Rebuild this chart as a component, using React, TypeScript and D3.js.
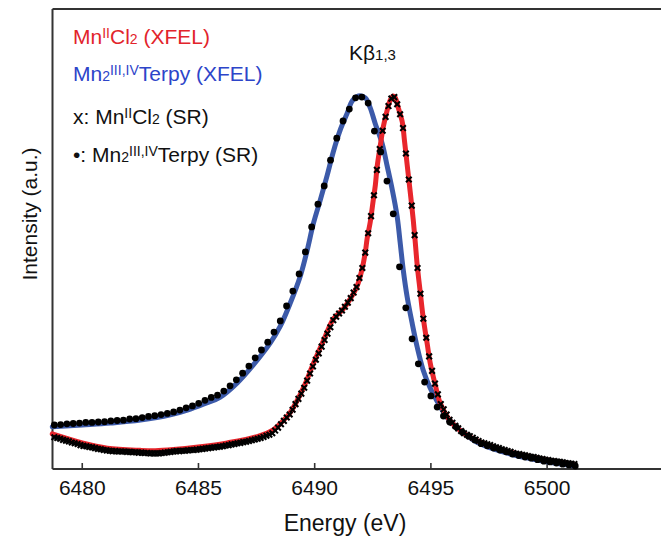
import React from 'react';
import * as d3 from 'd3';

// MnIICl2 XFEL spectrum (energy in eV, normalized intensity)
const RED_ENERGY = [6478.71,6480.00,6481.08,6482.50,6483.14,6483.92,6484.99,6486.24,6487.53,6488.22,6488.60,6488.95,6489.51,6489.94,6490.37,6490.80,6491.23,6491.53,6491.83,6492.05,6492.18,6492.26,6492.39,6492.52,6492.61,6492.69,6492.82,6492.95,6493.12,6493.25,6493.38,6493.47,6493.60,6493.77,6493.86,6493.98,6494.11,6494.24,6494.33,6494.41,6494.54,6494.67,6494.85,6494.97,6495.19,6495.40,6495.83,6496.39,6497.13,6498.55,6500.01,6501.13];
const RED_INTENSITY = [0.094,0.070,0.056,0.050,0.049,0.052,0.059,0.070,0.087,0.105,0.127,0.152,0.217,0.282,0.343,0.402,0.429,0.456,0.491,0.539,0.582,0.619,0.662,0.721,0.761,0.812,0.866,0.917,0.962,0.989,1.000,0.995,0.968,0.930,0.882,0.815,0.743,0.668,0.606,0.547,0.475,0.405,0.332,0.284,0.225,0.177,0.129,0.097,0.072,0.043,0.024,0.013];

// Mn2III,IV Terpy XFEL spectrum
const BLUE_ENERGY = [6478.71,6480.00,6481.20,6482.50,6483.79,6484.52,6485.21,6485.94,6486.67,6487.36,6488.09,6488.52,6488.95,6489.38,6489.68,6489.94,6490.24,6490.54,6490.80,6491.10,6491.40,6491.62,6491.88,6492.18,6492.39,6492.61,6492.91,6493.12,6493.34,6493.55,6493.68,6493.81,6493.98,6494.20,6494.41,6494.67,6494.97,6495.28,6495.71,6496.14,6496.70,6497.13,6498.55,6500.01,6501.21];
const BLUE_INTENSITY = [0.113,0.118,0.123,0.131,0.145,0.158,0.174,0.193,0.231,0.279,0.338,0.383,0.445,0.517,0.587,0.657,0.721,0.788,0.850,0.909,0.954,0.987,1.000,0.995,0.968,0.925,0.871,0.812,0.748,0.676,0.606,0.534,0.461,0.389,0.327,0.265,0.217,0.180,0.137,0.110,0.083,0.067,0.038,0.019,0.008];

// MnIICl2 SR spectrum (x markers), regular energy grid
const SR_MNCL2_START = 6478.8;
const SR_MNCL2_STEP = 0.125;
const SR_MNCL2_INTENSITY = [
  0.085,0.083,0.081,0.078,0.076,0.074,0.071,0.069,0.067,0.064,
  0.062,0.061,0.059,0.058,0.056,0.054,0.053,0.051,0.050,0.049,
  0.048,0.048,0.047,0.047,0.047,0.046,0.046,0.045,0.045,0.044,
  0.044,0.043,0.043,0.042,0.042,0.042,0.042,0.043,0.044,0.045,
  0.046,0.047,0.048,0.048,0.049,0.049,0.050,0.051,0.051,0.052,
  0.053,0.054,0.055,0.056,0.057,0.058,0.059,0.060,0.061,0.063,
  0.064,0.066,0.067,0.069,0.070,0.072,0.073,0.075,0.077,0.079,
  0.081,0.083,0.086,0.089,0.092,0.096,0.103,0.111,0.120,0.129,
  0.138,0.146,0.159,0.174,0.188,0.202,0.218,0.237,0.256,0.275,
  0.293,0.310,0.328,0.346,0.363,0.380,0.399,0.408,0.417,0.425,
  0.435,0.446,0.458,0.473,0.488,0.512,0.539,0.580,0.632,0.678,
  0.734,0.802,0.858,0.907,0.944,0.973,0.993,0.997,0.978,0.951,
  0.914,0.846,0.776,0.706,0.627,0.539,0.470,0.403,0.352,0.302,
  0.263,0.229,0.200,0.174,0.160,0.146,0.132,0.124,0.116,0.109,
  0.102,0.096,0.092,0.088,0.084,0.079,0.075,0.071,0.069,0.066,
  0.064,0.061,0.058,0.056,0.053,0.051,0.048,0.046,0.043,0.041,
  0.040,0.038,0.037,0.035,0.033,0.032,0.030,0.028,0.027,0.025,
  0.024,0.022,0.021,0.020,0.019,0.018,0.016,0.015,0.014,0.013
];

// Mn2III,IV Terpy SR spectrum (dot markers), regular energy grid
const SR_TERPY_START = 6478.8;
const SR_TERPY_STEP = 0.27;
const SR_TERPY_INTENSITY = [
  0.118,0.119,0.121,0.122,0.123,0.125,0.125,0.126,0.127,0.129,
  0.130,0.131,0.134,0.135,0.138,0.141,0.143,0.146,0.149,0.153,
  0.158,0.164,0.169,0.176,0.184,0.192,0.198,0.209,0.223,0.239,
  0.257,0.276,0.298,0.319,0.340,0.367,0.397,0.437,0.477,0.523,
  0.582,0.649,0.710,0.759,0.828,0.887,0.933,0.965,0.995,0.997,
  0.981,0.906,0.850,0.772,0.684,0.542,0.432,0.349,0.282,0.233,
  0.196,0.166,0.142,0.126,0.113,0.099,0.088,0.078,0.068,0.062,
  0.056,0.051,0.046,0.040,0.036,0.032,0.029,0.025,0.021,0.019,
  0.016,0.013,0.011,0.008
];

const X_TICKS = [6480, 6485, 6490, 6495, 6500];
const X_DOMAIN = [6478.72, 6504.9];
const Y_DOMAIN = [0, 1];

const FONT = '"Liberation Sans", Arial, Helvetica, sans-serif';
const RED = '#e8262c';
const BLUE = '#3c5aa9';
const RED_TEXT = '#e2242b';
const BLUE_TEXT = '#2d45c9';
const INK = '#111';

export default function App() {
  const W = 661, H = 537;
  const left = 52.5, right = 661, top = 9, bottom = 469;
  const x = d3.scaleLinear().domain(X_DOMAIN).range([left, right]);
  const y = d3.scaleLinear().domain(Y_DOMAIN).range([bottom, 96]);

  const line = d3
    .line<[number, number]>()
    .x((d) => x(d[0]))
    .y((d) => y(d[1]))
    .curve(d3.curveCatmullRom.alpha(0.5));

  const redPts = RED_ENERGY.map((e, i) => [e, RED_INTENSITY[i]] as [number, number]);
  const bluePts = BLUE_ENERGY.map((e, i) => [e, BLUE_INTENSITY[i]] as [number, number]);
  const mnPts = SR_MNCL2_INTENSITY.map((v, i) => [SR_MNCL2_START + i * SR_MNCL2_STEP, v] as [number, number]);
  const tpPts = SR_TERPY_INTENSITY.map((v, i) => [SR_TERPY_START + i * SR_TERPY_STEP, v] as [number, number]);

  const xs = 2.8;
  const xPath = `M${-xs},${-xs}L${xs},${xs}M${-xs},${xs}L${xs},${-xs}`;

  return (
    <svg
      width={W}
      height={H}
      viewBox={`0 0 ${W} ${H}`}
      style={{ position: 'absolute', left: 0, top: 0, display: 'block', background: '#fff' }}
      fontFamily={FONT}
    >
      <rect x={0} y={0} width={W} height={H} fill="#fff" />

      {/* frame */}
      <line x1={left} x2={right} y1={top} y2={top} stroke="#333" strokeWidth={2.2} />
      <line x1={left} x2={left} y1={top} y2={bottom} stroke="#333" strokeWidth={2} />
      <line x1={left} x2={right} y1={bottom} y2={bottom} stroke="#333" strokeWidth={2.2} />

      {/* x ticks */}
      {X_TICKS.map((t) => (
        <g key={t}>
          <line x1={x(t)} x2={x(t)} y1={bottom} y2={bottom - 6} stroke="#333" strokeWidth={1.6} />
          <text x={x(t)} y={495} textAnchor="middle" fontSize={21} fill={INK}>
            {t}
          </text>
        </g>
      ))}

      {/* axis titles */}
      <text x={345} y={531} textAnchor="middle" fontSize={23} fill={INK}>
        Energy (eV)
      </text>
      <text
        transform="translate(37,214) rotate(-90)"
        textAnchor="middle"
        fontSize={21}
        fill={INK}
      >
        Intensity (a.u.)
      </text>

      {/* XFEL lines */}
      <path d={line(bluePts) || ''} fill="none" stroke={BLUE} strokeWidth={5} strokeLinejoin="round" strokeLinecap="round" />
      <path d={line(redPts) || ''} fill="none" stroke={RED} strokeWidth={5} strokeLinejoin="round" strokeLinecap="round" />

      {/* SR markers */}
      {mnPts.map((d, i) => (
        <path
          key={'m' + i}
          d={xPath}
          transform={`translate(${x(d[0])},${y(d[1])})`}
          stroke="#000"
          strokeWidth={2.1}
          fill="none"
        />
      ))}
      {tpPts.map((d, i) => (
        <circle key={'t' + i} cx={x(d[0])} cy={y(d[1])} r={3.4} fill="#000" />
      ))}

      {/* legend */}
      <text x={73} y={44} fontSize={21} fill={RED_TEXT}>
        Mn
        <tspan fontSize={14} dy={-6}>II</tspan>
        <tspan dy={6}>Cl</tspan>
        <tspan fontSize={14}>2</tspan>
        <tspan> (XFEL)</tspan>
      </text>
      <text x={73} y={81} fontSize={21} fill={BLUE_TEXT}>
        Mn
        <tspan fontSize={14}>2</tspan>
        <tspan fontSize={14} dy={-6}>III,IV</tspan>
        <tspan dy={6}>Terpy (XFEL)</tspan>
      </text>
      <text x={73} y={124} fontSize={21} fill={INK}>
        x: Mn
        <tspan fontSize={14} dy={-6}>II</tspan>
        <tspan dy={6}>Cl</tspan>
        <tspan fontSize={14}>2</tspan>
        <tspan> (SR)</tspan>
      </text>
      <text x={73} y={162} fontSize={21} fill={INK}>
        •: Mn
        <tspan fontSize={14}>2</tspan>
        <tspan fontSize={14} dy={-6}>III,IV</tspan>
        <tspan dy={6}>Terpy (SR)</tspan>
      </text>

      {/* peak label */}
      <text x={349} y={60} fontSize={21} fill={INK}>
        Kβ
        <tspan fontSize={15}>1,3</tspan>
      </text>
    </svg>
  );
}
